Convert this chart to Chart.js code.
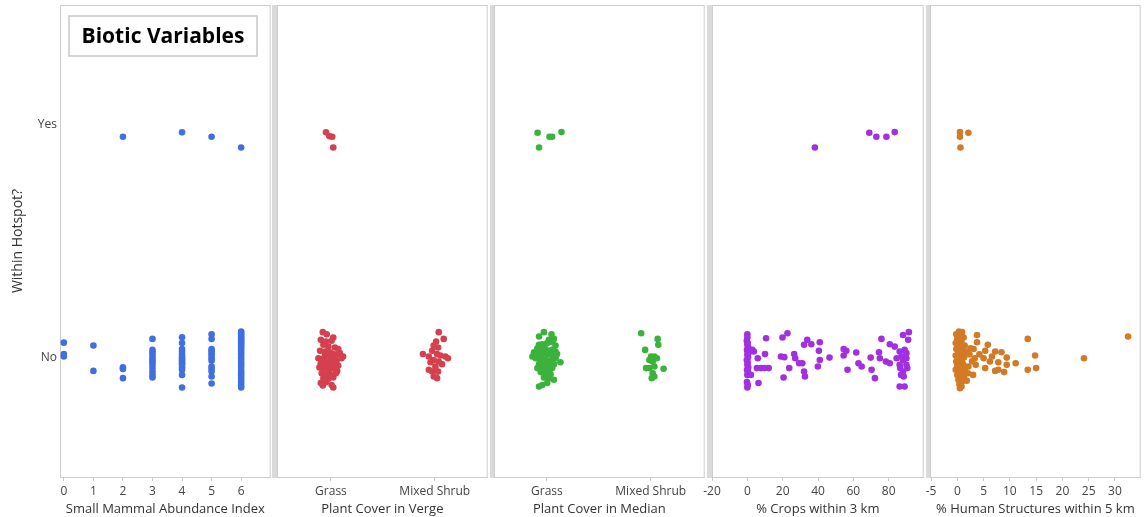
<!DOCTYPE html>
<html><head><meta charset="utf-8">
<script src="https://cdn.jsdelivr.net/npm/chart.js@4.4.1/dist/chart.umd.min.js"></script>
<style>
html,body{margin:0;padding:0;background:#fff;}
#wrap{position:relative;width:1144px;height:517px;overflow:hidden;background:#fff;}
.p{position:absolute;top:0;height:517px;}
</style></head><body><div id="wrap">
<div class="p" style="left:0px;width:274px"><canvas id="c1" width="274" height="517"></canvas></div>
<div class="p" style="left:257px;width:234px"><canvas id="c2" width="234" height="517"></canvas></div>
<div class="p" style="left:474px;width:234px"><canvas id="c3" width="234" height="517"></canvas></div>
<div class="p" style="left:692px;width:235px"><canvas id="c4" width="235" height="517"></canvas></div>
<div class="p" style="left:910px;width:234px"><canvas id="c5" width="234" height="517"></canvas></div>
</div>
<script>
// ---------- DATA ----------
const hotspotLabels = ['No', 'Yes'];
const plantCategories = ['Grass', 'Mixed Shrub'];
const mammalTicks = [0, 1, 2, 3, 4, 5, 6];
const cropTicks = [-20, 0, 20, 40, 60, 80];
const humanTicks = [-5, 0, 5, 10, 15, 20, 25, 30];
const panelTitles = ['Small Mammal Abundance Index', 'Plant Cover in Verge', 'Plant Cover in Median', '% Crops within 3 km', '% Human Structures within 5 km'];

// [x value, vertical jitter]
const mammalNo = [
  [0,0.065],[0,0.016],[0,0.006],
  [1,0.053],[1,-0.056],
  [2,-0.041],[2,-0.048],[2,-0.087],
  [3,0.081],[3,0.034],[3,0.024],[3,0.013],[3,0.001],[3,-0.009],[3,-0.019],[3,-0.030],[3,-0.044],[3,-0.059],[3,-0.073],[3,-0.084],
  [4,0.088],[4,0.063],[4,0.038],[4,0.027],[4,0.016],[4,0.006],[4,-0.002],[4,-0.009],[4,-0.016],[4,-0.023],[4,-0.030],[4,-0.041],[4,-0.051],[4,-0.073],[4,-0.127],
  [5,0.101],[5,0.081],[5,0.038],[5,0.030],[5,0.020],[5,0.010],[5,-0.002],[5,-0.013],[5,-0.037],[5,-0.047],[5,-0.059],[5,-0.080],[5,-0.110],
  [6,0.113],[6,0.105],[6,0.098],[6,0.091],[6,0.084],[6,0.077],[6,0.070],[6,0.063],[6,0.056],[6,0.048],[6,0.041],[6,0.030],[6,0.020],[6,0.010],[6,-0.002],[6,-0.013],[6,-0.023],[6,-0.033],[6,-0.044],[6,-0.056],[6,-0.066],[6,-0.076],[6,-0.087],[6,-0.098],[6,-0.108],[6,-0.118],[6,-0.127]
];
const mammalYes = [[2,-0.054],[4,-0.035],[5,-0.054],[6,-0.100]];

// [offset from category, vertical jitter]
const vergeGrassNo = [
  [-0.079,0.110],[-0.041,0.101],[0.022,0.087],[-0.098,0.077],[-0.048,0.070],[0.006,0.073],[-0.073,0.056],[-0.025,0.048],[0.038,0.044],[0.070,0.038],
  [-0.105,0.030],[-0.057,0.027],[-0.010,0.024],[0.086,0.020],[0.022,0.016],[0.117,0.006],[-0.121,-0.002],[-0.079,-0.004],[-0.035,-0.002],[0.006,-0.009],
  [0.054,-0.013],[0.102,-0.002],[-0.098,-0.023],[-0.048,-0.027],[-0.010,-0.030],[0.038,-0.023],[0.070,-0.033],[-0.111,-0.041],[-0.067,-0.047],[-0.016,-0.051],
  [0.022,-0.044],[0.060,-0.056],[-0.089,-0.066],[-0.041,-0.070],[0.006,-0.073],[0.048,-0.066],[-0.073,-0.087],[-0.025,-0.090],[0.022,-0.084],[-0.098,-0.108],
  [-0.048,-0.104],[0.006,-0.116],[0.022,-0.127],[-0.079,-0.118],[-0.016,0.010],[0.038,0.006],[-0.057,0.013],[0.006,-0.037],[-0.041,-0.016],[0.054,0.013]
];
const vergeShrubNo = [
  [0.038,0.110],[0.086,0.081],[0.013,0.070],[-0.010,0.053],[0.032,0.044],[-0.025,0.030],[-0.114,0.016],[-0.057,0.006],[0.022,0.016],[0.054,0.010],
  [0.102,0.006],[0.127,-0.002],[-0.010,-0.009],[-0.041,-0.019],[0.038,-0.016],[0.070,-0.027],[0.006,-0.037],[-0.057,-0.051],[-0.025,-0.059],[0.032,-0.059],
  [-0.010,-0.080],[0.022,-0.087]
];
const vergeGrassYes = [[-0.048,-0.035],[-0.016,-0.051],[0.012,-0.054],[0.022,-0.100]];

const medianGrassNo = [
  [-0.029,0.110],[-0.076,0.091],[0.044,0.101],[0.067,0.081],[0.019,0.077],[-0.044,0.058],[0.003,0.063],[0.051,0.067],[0.083,0.053],[-0.092,0.041],
  [-0.124,0.024],[-0.060,0.034],[-0.013,0.038],[0.035,0.030],[0.083,0.027],[-0.140,0.006],[-0.092,0.010],[-0.044,0.016],[0.003,0.013],[0.051,0.010],
  [-0.108,-0.002],[-0.060,-0.004],[-0.013,-0.009],[0.035,-0.013],[0.083,-0.002],[0.130,-0.019],[-0.076,-0.027],[-0.029,-0.023],[0.019,-0.030],[0.067,-0.027],
  [-0.092,-0.044],[-0.044,-0.041],[0.003,-0.047],[0.051,-0.044],[-0.060,-0.061],[-0.013,-0.066],[0.035,-0.070],[-0.029,-0.084],[0.019,-0.087],[0.067,-0.094],
  [0.003,-0.108],[-0.044,-0.116],[-0.076,-0.123],[0.019,-0.056],[-0.108,0.020],[0.098,0.016],[0.051,0.034],[-0.076,0.056]
];
const medianShrubNo = [
  [-0.092,0.105],[0.067,0.081],[0.073,0.056],[-0.054,0.034],[0.003,0.006],[0.035,0.006],[0.060,-0.002],[-0.013,-0.009],
  [0.019,-0.016],[-0.045,-0.044],[-0.013,-0.044],[0.035,-0.037],[0.124,-0.047],[0.019,-0.066],[0.035,-0.080],[0.010,-0.087]
];
const medianGrassYes = [[-0.090,-0.037],[0.025,-0.054],[0.050,-0.054],[0.140,-0.034],[-0.076,-0.100]];

const cropsNo = [
  [0,0.101],[0,0.087],[-0.3,0.073],[0.2,0.063],[0,0.056],[0.5,0.044],[-0.2,0.034],[0.3,0.024],[0,0.013],[0.4,0.003],
  [-0.3,-0.009],[0.2,-0.019],[0,-0.030],[0.5,-0.041],[-0.2,-0.051],[0.3,-0.061],[0,-0.073],[-0.2,-0.104],[0.2,-0.116],[0,-0.127],
  [1.8,0.027],[2.8,0.034],[3.7,0.027],[2.0,-0.073],[5.9,-0.002],[6.3,-0.108],[10.6,0.084],[10.0,0.016],[5.4,-0.044],[7.8,-0.044],[9.7,-0.044],[12.1,-0.044],
  [19.9,0.087],[22.7,0.105],[19.0,0.006],[20.9,0.003],[23.7,-0.044],[20.5,-0.084],
  [26.5,0.016],[27.1,-0.002],[29.3,-0.023],[31.1,-0.023],[32.1,-0.059],[32.6,-0.080],[32.1,0.056],[33.9,0.077],[36.2,0.058],
  [41.0,0.067],[40.5,0.030],[41.0,-0.009],[39.9,-0.037],[46.5,0.001],
  [54.5,0.038],[56.0,0.030],[54.5,0.010],[56.7,-0.051],[61.6,0.023],[62.9,-0.023],[64.7,-0.037],
  [69.8,0.001],[70.3,-0.051],[72.2,-0.087],[75.9,0.081],[75.0,-0.002],[74.5,0.024],[78.4,-0.016],[80.6,0.058],[80.6,-0.023],
  [83.4,0.048],[86.2,0.027],[87.2,0.006],[88.1,-0.009],[84.5,-0.002],[86.2,-0.030],[89.0,0.034],[90.0,0.020],[90.0,-0.002],[90.0,-0.030],
  [86.5,-0.044],[88.1,-0.059],[88.5,-0.080],[91.0,0.077],[88.1,0.098],[91.4,0.110],[86.2,-0.123],[89.0,-0.123],[90.5,-0.044],[87.0,-0.073]
];
const cropsYes = [[38.2,-0.100],[69.0,-0.037],[73.0,-0.054],[78.7,-0.054],[83.4,-0.034]];

const humanNo = [
  [0.3,0.113],[0.9,0.110],[-0.2,0.101],[0.6,0.091],[1.2,0.087],[0,0.080],[0.8,0.073],[-0.3,0.063],[0.5,0.058],[1.4,0.053],
  [0.1,0.048],[0.9,0.044],[-0.2,0.038],[0.6,0.030],[1.6,0.027],[0.2,0.020],[1.0,0.016],[-0.3,0.010],[0.5,0.006],[1.3,0.001],
  [0,-0.004],[0.8,-0.009],[-0.2,-0.016],[0.4,-0.023],[1.1,-0.027],[0,-0.033],[0.7,-0.041],[1.5,-0.044],[-0.3,-0.051],[0.3,-0.059],
  [1.0,-0.066],[0,-0.073],[0.6,-0.080],[1.3,-0.087],[0.2,-0.094],[0.9,-0.101],[0.4,-0.113],[0.8,-0.123],[0.5,-0.130],[1.8,-0.098],
  [3.75,0.098],[3.75,0.067],[2.5,0.041],[3.1,0.038],[5.8,0.056],[5.3,0.030],[7.2,0.027],[8.4,0.024],[3.3,-0.002],[5.0,-0.002],
  [6.6,0.006],[9.4,0.001],[6.2,-0.016],[7.8,-0.019],[11.1,-0.023],[9.4,-0.030],[2.1,-0.037],[3.5,-0.030],[2.0,-0.066],[3.0,-0.073],
  [5.3,-0.044],[7.2,-0.056],[7.8,-0.051],[8.9,-0.061],[13.4,0.081],[14.8,0.010],[13.4,-0.051],[15.0,-0.044],[24.1,-0.002],[32.5,0.091],
  [2.3,0.015],[2.8,-0.015],[4.2,0.015]
];
const humanYes = [[0.5,-0.034],[0.5,-0.054],[2.1,-0.037],[0.6,-0.100]];

// ---------- BUILD ----------
const FONT = "'Open Sans', 'Noto Sans', sans-serif";
function pts(arr, cat, base) { return arr.map(p => ({x: (base === undefined ? p[0] : base + p[0]), y: cat + p[1]})); }

const panels = [
  {id:'c1', color:'#3f6fe0', min:-0.13, max:7.0, ticks:mammalTicks, labels:null, sepW:0, padL:0, padR:2, yAxis:true,
   data: pts(mammalNo,0).concat(pts(mammalYes,1))},
  {id:'c2', color:'#d5404f', min:-0.52, max:1.51, ticks:[0,1], labels:plantCategories, sepW:5, padL:20, padR:1,
   data: pts(vergeGrassNo,0,0).concat(pts(vergeShrubNo,0,1), pts(vergeGrassYes,1,0))},
  {id:'c3', color:'#3bb23b', min:-0.51, max:1.52, ticks:[0,1], labels:plantCategories, sepW:4, padL:20, padR:1,
   data: pts(medianGrassNo,0,0).concat(pts(medianShrubNo,0,1), pts(medianGrassYes,1,0))},
  {id:'c4', color:'#a22fe0', min:-20, max:99.8, ticks:cropTicks, labels:null, sepW:5, padL:20, padR:1,
   data: pts(cropsNo,0).concat(pts(cropsYes,1))},
  {id:'c5', color:'#d27a25', min:-5.2, max:34.9, ticks:humanTicks, labels:null, sepW:4, padL:20, padR:1,
   data: pts(humanNo,0).concat(pts(humanYes,1))}
];

const framePlugin = {
  id: 'frame',
  beforeDatasetsDraw(chart, args, opts) {
    const a = chart.chartArea, ctx = chart.ctx;
    ctx.save();
    ctx.strokeStyle = '#cdcdcd';
    ctx.lineWidth = 1;
    ctx.strokeRect(a.left + 0.5, a.top + 0.5, a.right - a.left - 1, a.bottom - a.top);
    if (opts.sepW) {
      ctx.fillStyle = '#dadada';
      ctx.fillRect(a.left - opts.sepW, a.top, opts.sepW, a.bottom - a.top + 1);
    }
    ctx.restore();
  }
};
const titleBoxPlugin = {
  id: 'titleBox',
  afterDraw(chart, args, opts) {
    if (!opts.text) return;
    const ctx = chart.ctx;
    ctx.save();
    ctx.fillStyle = '#fff';
    ctx.fillRect(69, 16, 188, 40);
    ctx.strokeStyle = '#c8c8c8';
    ctx.lineWidth = 1.5;
    ctx.strokeRect(69, 16, 188, 40);
    ctx.fillStyle = '#000';
    ctx.font = "bold 21px " + FONT;
    ctx.textAlign = 'center';
    ctx.textBaseline = 'middle';
    ctx.fillText(opts.text, 163, 37);
    ctx.restore();
  }
};

panels.forEach((p, i) => {
  new Chart(document.getElementById(p.id), {
    type: 'scatter',
    data: { datasets: [{ data: p.data, backgroundColor: p.color, borderWidth: 0, pointRadius: 3.3, pointHoverRadius: 3.3 }] },
    plugins: [framePlugin, titleBoxPlugin],
    options: {
      responsive: false, animation: false,
      layout: { padding: { top: 5, bottom: 0, left: p.padL, right: p.padR } },
      plugins: {
        legend: { display: false }, tooltip: { enabled: false },
        frame: { sepW: p.sepW },
        titleBox: { text: i === 0 ? 'Biotic Variables' : '' }
      },
      scales: {
        x: {
          type: 'linear', min: p.min, max: p.max,
          afterBuildTicks: s => { s.ticks = p.ticks.map(v => ({value: v})); },
          afterFit: s => { s.height = 40; s.paddingLeft = 0; s.paddingRight = 0; },
          ticks: {
            autoSkip: false, maxRotation: 0, padding: 3, color: '#444',
            font: { family: FONT, size: 12 },
            callback: v => p.labels ? p.labels[v] : String(v)
          },
          grid: { display: true, drawOnChartArea: false, drawTicks: true, tickLength: 4, color: '#c8c8c8' },
          border: { display: true, color: '#cdcdcd' },
          title: { display: true, text: panelTitles[i], color: '#333', font: { family: FONT, size: 13 }, padding: { top: 2, bottom: 0 } }
        },
        y: {
          type: 'linear', min: -0.51, max: 1.51, display: !!p.yAxis,
          afterBuildTicks: s => { s.ticks = [{value: 0}, {value: 1}]; },
          afterFit: s => { if (p.yAxis) { s.width = 60; } s.paddingTop = 0; s.paddingBottom = 0; },
          ticks: { color: '#444', padding: 3, font: { family: FONT, size: 12 }, callback: v => hotspotLabels[v] },
          grid: { display: false, drawTicks: false },
          border: { display: false },
          title: { display: true, text: 'Within Hotspot?', color: '#333', font: { family: FONT, size: 14 }, padding: { top: 10, bottom: 0 } }
        }
      }
    }
  });
});
</script>
</body></html>
